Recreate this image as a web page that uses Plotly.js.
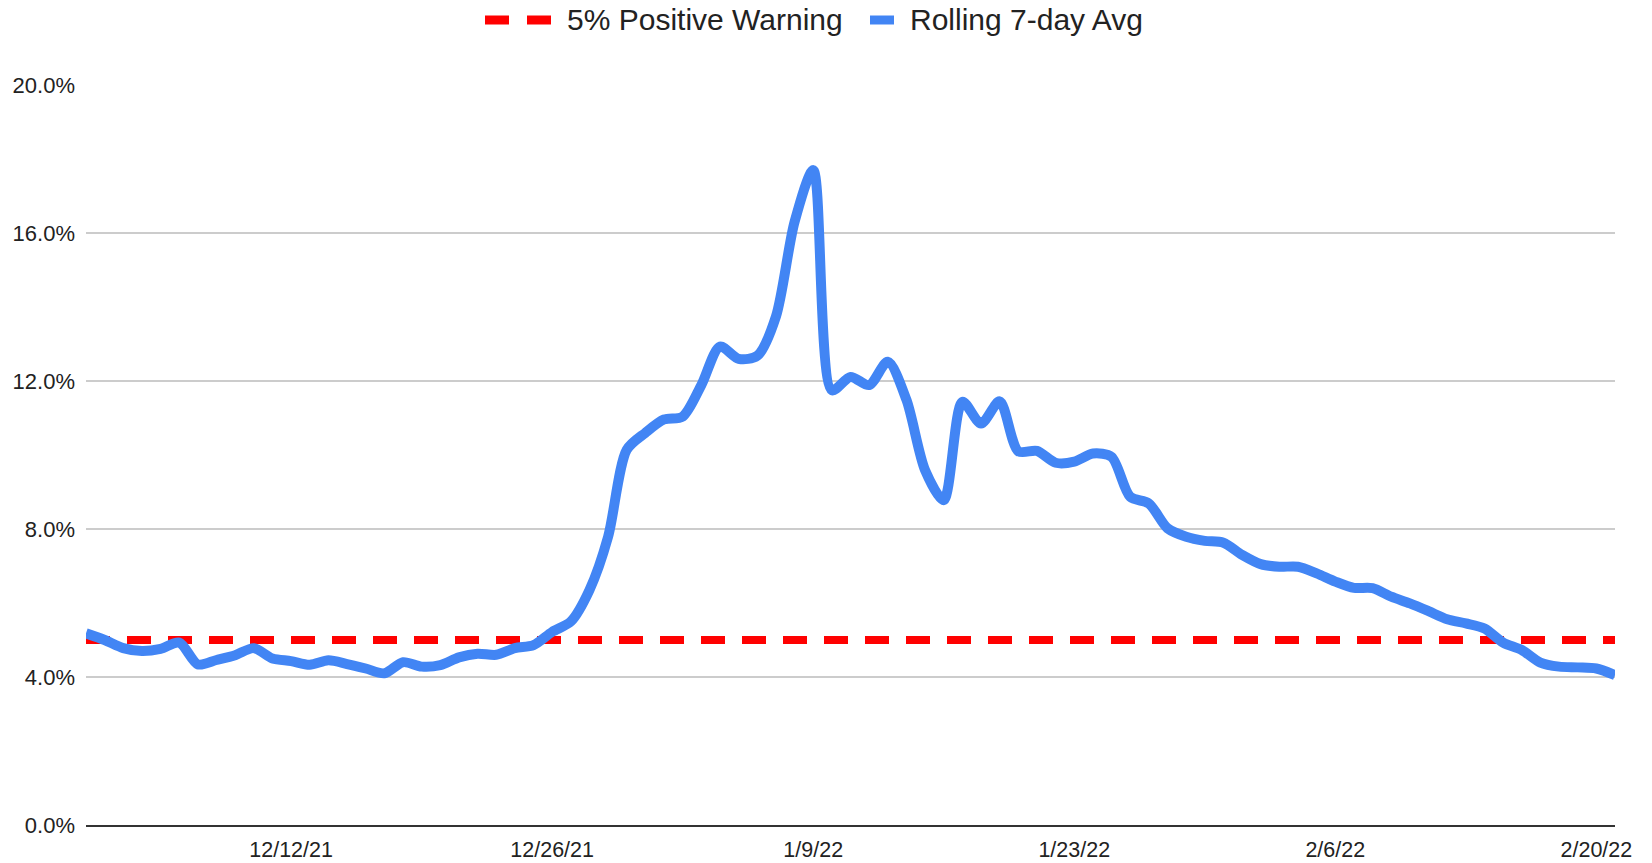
<!DOCTYPE html>
<html>
<head>
<meta charset="utf-8">
<script src="https://cdn.plot.ly/plotly-3.0.1.min.js"></script>
<style>
  html, body { margin: 0; padding: 0; background: #ffffff; }
  #chart { width: 1652px; height: 863px; }
</style>
</head>
<body>
<div id="chart"></div>
<script>
// ---- Data ----
const dates = [
  '2021-12-01','2021-12-02','2021-12-03','2021-12-04','2021-12-05','2021-12-06','2021-12-07','2021-12-08','2021-12-09','2021-12-10',
  '2021-12-11','2021-12-12','2021-12-13','2021-12-14','2021-12-15','2021-12-16','2021-12-17','2021-12-18','2021-12-19','2021-12-20',
  '2021-12-21','2021-12-22','2021-12-23','2021-12-24','2021-12-25','2021-12-26','2021-12-27','2021-12-28','2021-12-29','2021-12-30',
  '2021-12-31','2022-01-01','2022-01-02','2022-01-03','2022-01-04','2022-01-05','2022-01-06','2022-01-07','2022-01-08','2022-01-09',
  '2022-01-10','2022-01-11','2022-01-12','2022-01-13','2022-01-14','2022-01-15','2022-01-16','2022-01-17','2022-01-18','2022-01-19',
  '2022-01-20','2022-01-21','2022-01-22','2022-01-23','2022-01-24','2022-01-25','2022-01-26','2022-01-27','2022-01-28','2022-01-29',
  '2022-01-30','2022-01-31','2022-02-01','2022-02-02','2022-02-03','2022-02-04','2022-02-05','2022-02-06','2022-02-07','2022-02-08',
  '2022-02-09','2022-02-10','2022-02-11','2022-02-12','2022-02-13','2022-02-14','2022-02-15','2022-02-16','2022-02-17','2022-02-18',
  '2022-02-19','2022-02-20','2022-02-21'
];

// Rolling 7-day average positivity (%)
const rollingAvg = [
  5.18, 5.00, 4.78, 4.70, 4.76, 4.93, 4.34, 4.46, 4.59, 4.78,
  4.50, 4.43, 4.33, 4.45, 4.35, 4.23, 4.10, 4.40, 4.28, 4.32,
  4.53, 4.63, 4.60, 4.78, 4.86, 5.22, 5.50, 6.35, 7.79, 10.14,
  10.60, 10.96, 11.04, 11.89, 12.93, 12.60, 12.68, 13.74, 16.30, 17.70,
  11.75, 12.11, 11.89, 12.52, 11.49, 9.59, 8.78, 11.44, 10.85, 11.45,
  10.10, 10.11, 9.79, 9.82, 10.04, 9.95, 8.87, 8.69, 8.02, 7.79,
  7.68, 7.63, 7.30, 7.05, 6.98, 6.98, 6.80, 6.58, 6.41, 6.40,
  6.17, 5.99, 5.78, 5.56, 5.45, 5.31, 4.93, 4.73, 4.39, 4.28,
  4.26, 4.23, 4.05
];

// 5% positive warning threshold
const warningDates = ['2021-12-01', '2022-02-21'];
const warningValues = [5, 5];

// Axis ticks
const xTickVals = ['2021-12-12', '2021-12-26', '2022-01-09', '2022-01-23', '2022-02-06', '2022-02-20'];
const xTickText = ['12/12/21', '12/26/21', '1/9/22', '1/23/22', '2/6/22', '2/20/22'];
const yTickVals = [0, 4, 8, 12, 16, 20];
const yTickText = ['0.0%', '4.0%', '8.0%', '12.0%', '16.0%', '20.0%'];

const seriesNames = ['5% Positive Warning', 'Rolling 7-day Avg'];
const seriesColors = ['#ff0000', '#4285f4'];

// ---- Layout helpers ----
const W = 1652, H = 863;
const M = { l: 86, r: 37, t: 85, b: 38 };
const pw = W - M.l - M.r, ph = H - M.t - M.b;
const px = x => (x - M.l) / pw;
const py = y => (H - M.b - y) / ph;
const FONT = '"Liberation Sans", Arial, sans-serif';

const traces = [
  {
    x: warningDates, y: warningValues, type: 'scatter', mode: 'lines',
    name: seriesNames[0],
    line: { color: seriesColors[0], width: 8, dash: '24px,17px' },
    hoverinfo: 'skip'
  },
  {
    x: dates, y: rollingAvg, type: 'scatter', mode: 'lines',
    name: seriesNames[1],
    line: { color: seriesColors[1], width: 10, shape: 'spline', smoothing: 0.8 }
  }
];

const legendY = 20;
const layout = {
  width: W, height: H,
  margin: M,
  paper_bgcolor: '#ffffff',
  plot_bgcolor: '#ffffff',
  showlegend: false,
  font: { family: FONT, color: '#222222', size: 22 },
  xaxis: {
    type: 'date',
    range: ['2021-12-01', '2022-02-21'],
    tickvals: xTickVals,
    ticktext: xTickText,
    showgrid: false,
    zeroline: false,
    showline: true,
    linecolor: '#333333',
    linewidth: 2,
    ticks: '',
    ticklabelstandoff: 4,
    tickfont: { family: FONT, size: 21.5, color: '#222222' }
  },
  yaxis: {
    range: [0, 20],
    tickvals: yTickVals,
    ticktext: yTickText,
    showgrid: true,
    gridcolor: '#cccccc',
    gridwidth: 1.5,
    zeroline: false,
    showline: false,
    ticks: '',
    ticklabelstandoff: 10,
    tickfont: { family: FONT, size: 22, color: '#222222' }
  },
  shapes: [
    { type: 'line', xref: 'paper', yref: 'paper',
      x0: px(485), x1: px(551), y0: py(legendY), y1: py(legendY),
      line: { color: seriesColors[0], width: 9, dash: '24px,18px' } },
    { type: 'line', xref: 'paper', yref: 'paper',
      x0: px(870), x1: px(894), y0: py(legendY), y1: py(legendY),
      line: { color: seriesColors[1], width: 9 } }
  ],
  annotations: [
    { xref: 'paper', yref: 'paper', x: px(565), y: py(legendY), xanchor: 'left', yanchor: 'middle',
      text: seriesNames[0], showarrow: false, font: { family: FONT, size: 30, color: '#222222' } },
    { xref: 'paper', yref: 'paper', x: px(908), y: py(legendY), xanchor: 'left', yanchor: 'middle',
      text: seriesNames[1], showarrow: false, font: { family: FONT, size: 30, color: '#222222' } }
  ]
};

Plotly.newPlot('chart', traces, layout, { displayModeBar: false, staticPlot: true });
</script>
</body>
</html>
